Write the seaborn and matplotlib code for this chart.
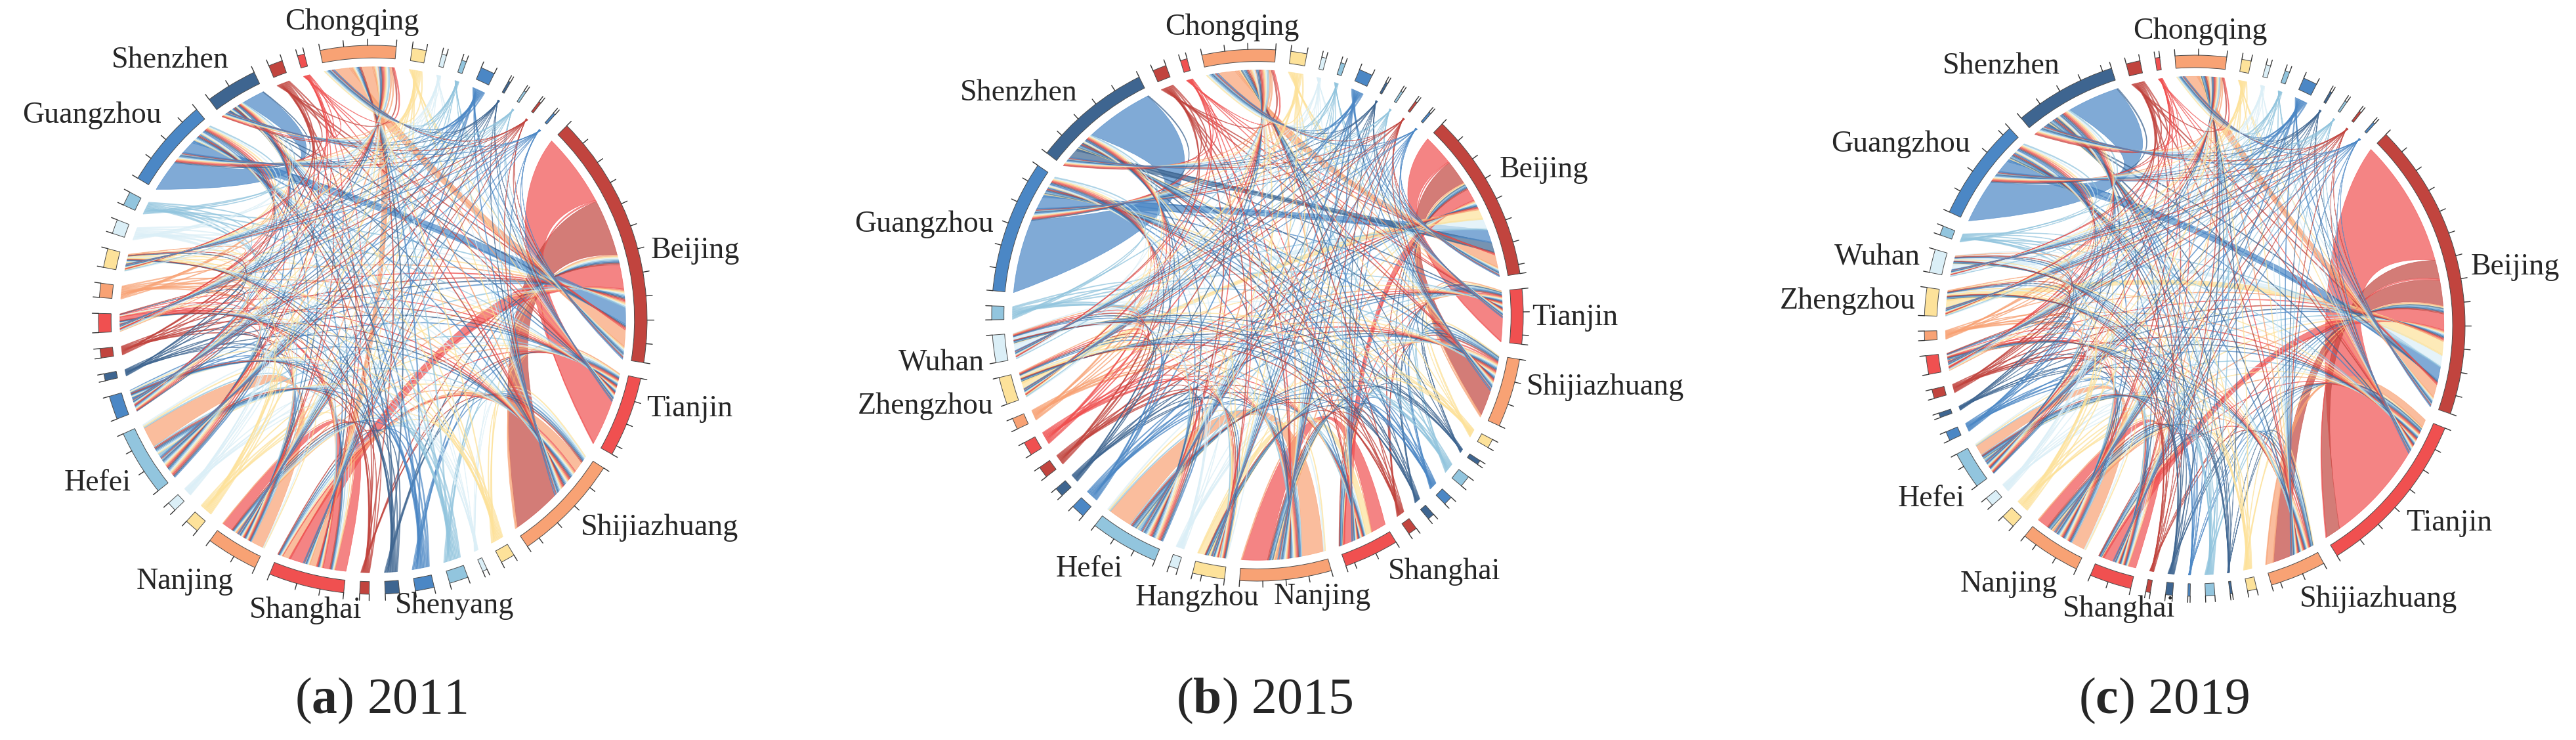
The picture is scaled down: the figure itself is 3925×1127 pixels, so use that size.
import numpy as np
import matplotlib
matplotlib.use("Agg")
import matplotlib.pyplot as plt
import seaborn as sns
from matplotlib.path import Path
from matplotlib.patches import PathPatch, Wedge

sns.set_style("white")
plt.rcParams['font.family'] = ['Liberation Serif', 'DejaVu Serif']
plt.rcParams['mathtext.fontset'] = 'custom'
plt.rcParams['mathtext.bf'] = 'Liberation Serif:bold'

DR, RD, OR, YE = "#c1443e", "#f05050", "#f8a274", "#fde29a"
LB, BL, DB, CY = "#92c5de", "#4b87c5", "#3e6590", "#dbeff7"

# segments clockwise from Beijing; sizes in degrees of arc
# ---- (a) 2011 ----
names_a = ["Beijing", "Tianjin", "Shijiazhuang", "", "", "", "", "Shenyang", "", "Shanghai", "Nanjing",
           "", "", "Hefei", "", "", "", "", "", "", "", "", "Guangzhou", "Shenzhen", "", "",
           "Chongqing", "", "", "", "", "", "", "", ""]
sizes_a = [54, 17, 23, 3, 1, 4, 4, 3, 2, 16, 11, 3, 2, 14, 5, 1.5, 2, 4, 3, 4, 3, 3, 19, 11, 3, 1.5,
           16, 3, 1, 1, 3, 0.5, 0.5, 0.5, 0.5]
colors_a = [DR, RD, OR, YE, CY, LB, BL, DB, DR, RD, OR, YE, CY, LB, BL, DB, DR, RD, OR, YE, CY, LB,
            BL, DB, DR, RD, OR, YE, CY, LB, BL, DB, LB, DR, BL]
links_a = [(1, 0, 18), (0, 2, 14), (10, 13, 6), (9, 10, 5), (17, 9, 3), (22, 23, 10), (26, 0, 4),
           (26, 9, 3), (22, 0, 4), (9, 0, 6), (2, 9, 3)]
hubs_a = [0, 1, 2, 9, 10, 13, 22, 23, 26, 14, 17, 19]
labels_a = {"Beijing": 14, "Tianjin": -18, "Shijiazhuang": -45, "Shenyang": -74, "Shanghai": -103,
            "Nanjing": -118, "Hefei": -146, "Guangzhou": 136, "Shenzhen": 119, "Chongqing": 94}

# ---- (b) 2015 ----
names_b = ["Beijing", "Tianjin", "Shijiazhuang", "", "", "", "", "", "", "Shanghai", "Nanjing",
           "Hangzhou", "", "Hefei", "", "", "", "", "", "Zhengzhou", "Wuhan", "", "Guangzhou",
           "Shenzhen", "", "", "Chongqing", "", "", "", "", "", "", "", ""]
sizes_b = [37, 12, 15, 2, 1, 2.5, 2, 1.5, 2, 12, 20, 7, 2, 15, 3, 2, 2.5, 3, 2.5, 6, 6, 3, 29, 26, 3,
           1.5, 16, 3.5, 1, 1, 3, 0.5, 0.5, 0.5, 0.5]
colors_b = [DR, RD, OR, YE, DB, LB, BL, DB, DR, RD, OR, YE, CY, LB, BL, DB, DR, RD, OR, YE, CY, LB,
            BL, DB, DR, RD, OR, YE, CY, LB, BL, DB, LB, DR, BL]
links_b = [(1, 0, 10), (0, 2, 8), (22, 23, 24), (9, 10, 8), (10, 13, 7), (20, 0, 3), (19, 0, 3),
           (26, 0, 4), (22, 0, 4), (9, 0, 4), (11, 9, 3), (23, 0, 3)]
hubs_b = [0, 1, 2, 9, 10, 13, 22, 23, 26, 11, 19, 20]
labels_b = {"Beijing": 31, "Tianjin": -0.5, "Shijiazhuang": -15, "Shanghai": -63, "Nanjing": -77,
            "Hangzhou": -102, "Hefei": -118, "Zhengzhou": -161, "Wuhan": -170, "Guangzhou": 161,
            "Shenzhen": 129, "Chongqing": 95}

# ---- (c) 2019 ----
names_c = ["Beijing", "Tianjin", "Shijiazhuang", "", "", "", "", "", "", "Shanghai", "Nanjing", "", "",
           "Hefei", "", "", "", "", "", "Zhengzhou", "Wuhan", "", "Guangzhou", "Shenzhen", "", "",
           "Chongqing", "", "", "", "", "", "", "", ""]
sizes_c = [64, 36, 12, 2, 0.5, 2, 0.5, 1.5, 1, 9, 13, 3, 2, 8, 2, 1, 2, 4, 2, 6, 5, 2, 22, 22, 3, 1,
           11, 2, 1, 1, 3, 0.5, 0.5, 0.5, 0.5]
colors_c = [DR, RD, OR, YE, DB, LB, BL, DB, DR, RD, OR, YE, CY, LB, BL, DB, DR, RD, OR, YE, CY, LB,
            BL, DB, DR, RD, OR, YE, CY, LB, BL, DB, LB, DR, BL]
links_c = [(1, 0, 40), (0, 2, 8), (0, 1, 6), (22, 23, 14), (10, 13, 5), (9, 10, 4), (19, 0, 4),
           (20, 0, 3), (26, 0, 4), (22, 0, 4), (9, 0, 5), (2, 1, 3)]
hubs_c = [0, 1, 2, 9, 10, 13, 22, 23, 26, 17, 19, 20]
labels_c = {"Beijing": 12, "Tianjin": -43, "Shijiazhuang": -69, "Shanghai": -105, "Nanjing": -118,
            "Hefei": -143, "Zhengzhou": 175, "Wuhan": 166, "Guangzhou": 141, "Shenzhen": 117.5,
            "Chongqing": 89}

thin_w = 0.35

# layout: (tag, year, ..., start angle, centre px, outer radius px, caption x px)
panels = [("a", "2011", names_a, sizes_a, colors_a, links_a, hubs_a, labels_a, 45, (568, 487), 418, 580),
          ("b", "2015", names_b, sizes_b, colors_b, links_b, hubs_b, labels_b, 46, (1916, 480), 405, 1926),
          ("c", "2019", names_c, sizes_c, colors_c, links_c, hubs_c, labels_c, 45, (3344, 496), 412, 3297)]

W, H = 3925, 1127
fig = plt.figure(figsize=(W / 100, H / 100), dpi=100)
HALF = 1.6
R_OUT = 1.085
FOCUS = np.array([0.22, 0.33])


def pt(a, r=1.0):
    t = np.deg2rad(a)
    return np.array([r * np.cos(t), r * np.sin(t)])


def ribbon(ax, a1, a2, b1, b2, color, alpha, lw):
    pa, pb = pt((a1 + a2) / 2), pt((b1 + b2) / 2)
    ctrl = 0.25 * (pa + pb) / 2 + FOCUS
    verts = [pt(x) for x in np.linspace(a1, a2, 16)]
    codes = [Path.MOVETO] + [Path.LINETO] * 15
    verts += [ctrl, pt(b1)]
    codes += [Path.CURVE3, Path.CURVE3]
    verts += [pt(x) for x in np.linspace(b1, b2, 16)[1:]]
    codes += [Path.LINETO] * 15
    verts += [ctrl, pt(a1)]
    codes += [Path.CURVE3, Path.CURVE3]
    ax.add_patch(PathPatch(Path(verts, codes), facecolor=color, edgecolor=color, lw=lw, alpha=alpha))


def draw_chord(ax, names, sizes, colors, links, hubs, labels, start):
    n = len(sizes)
    gap = (360 - sum(sizes)) / n
    spans = []
    a = start
    for s in sizes:
        spans.append((a, a - s))
        a -= s + gap
    mids = [(x + y) / 2 for x, y in spans]

    thin = []
    for h in hubs:
        for k in range(n):
            if k != h and not (k in hubs and hubs.index(k) < hubs.index(h)):
                thin.append((k, h, thin_w))
    all_links = [(i, j, w) for i, j, w in links] + thin

    # slot allocation: sort each node's ends by where the other end sits
    ends = {k: [] for k in range(n)}
    for li, (i, j, w) in enumerate(all_links):
        ends[i].append((li, j, w))
        ends[j].append((li, i, w))
    slot = {}
    for k in range(n):
        tot = sum(w for _, _, w in ends[k])
        if tot == 0:
            continue
        span = spans[k][0] - spans[k][1]
        order = sorted(ends[k], key=lambda e: -(((mids[e[1]] - mids[k]) % 360) or 360))
        cur = spans[k][0]
        for li, other, w in order:
            d = span * w / tot
            slot[(li, k)] = (cur, cur - d)
            cur -= d

    big_ids = sorted(range(len(links)), key=lambda li: -links[li][2])
    for li in big_ids:
        i, j, w = all_links[li]
        (a1, a2), (b1, b2) = slot[(li, i)], slot[(li, j)]
        ribbon(ax, a1, a2, b1, b2, colors[i], 0.7, 0.5)
    for li in range(len(links), len(all_links)):
        i, j, w = all_links[li]
        (a1, a2), (b1, b2) = slot[(li, i)], slot[(li, j)]
        ribbon(ax, a1, a2, b1, b2, colors[i], 0.6, 0.7)

    for k, (a1, a2) in enumerate(spans):
        ax.add_patch(Wedge((0, 0), R_OUT, a2, a1, width=0.05, facecolor=colors[k],
                           edgecolor="#4a4a4a", lw=0.7))
        ticks = [a1, a2] + list(np.arange(a1 - 5, a2 + 1, -5))
        for t in ticks:
            p0, p1 = pt(t, R_OUT), pt(t, R_OUT + 0.025)
            ax.plot([p0[0], p1[0]], [p0[1], p1[1]], color="#333333", lw=1.0)

    for name, ang in labels.items():
        c, s = np.cos(np.deg2rad(ang)), np.sin(np.deg2rad(ang))
        p = pt(ang, 1.12 + 0.06 * abs(s))
        ha = "left" if c > 0.3 else ("right" if c < -0.3 else "center")
        ax.text(p[0], p[1], name, ha=ha, va="center", fontsize=33)


for tag, year, names, sizes, colors, links, hubs, labels, start, (cx, cy), rpx, capx in panels:
    unit = rpx / R_OUT
    wpx = 2 * HALF * unit
    ax = fig.add_axes([(cx - wpx / 2) / W, 1 - (cy + wpx / 2) / H, wpx / W, wpx / H])
    ax.set_xlim(-HALF, HALF)
    ax.set_ylim(-HALF, HALF)
    ax.set_aspect("equal")
    ax.axis("off")
    draw_chord(ax, names, sizes, colors, links, hubs, labels, start)
    fig.text(capx / W, 1 - 1067 / H, r"($\mathbf{" + tag + r"}$) " + year, ha="center", va="center",
             fontsize=56)

fig.savefig("out.png", dpi=100, facecolor="white")
